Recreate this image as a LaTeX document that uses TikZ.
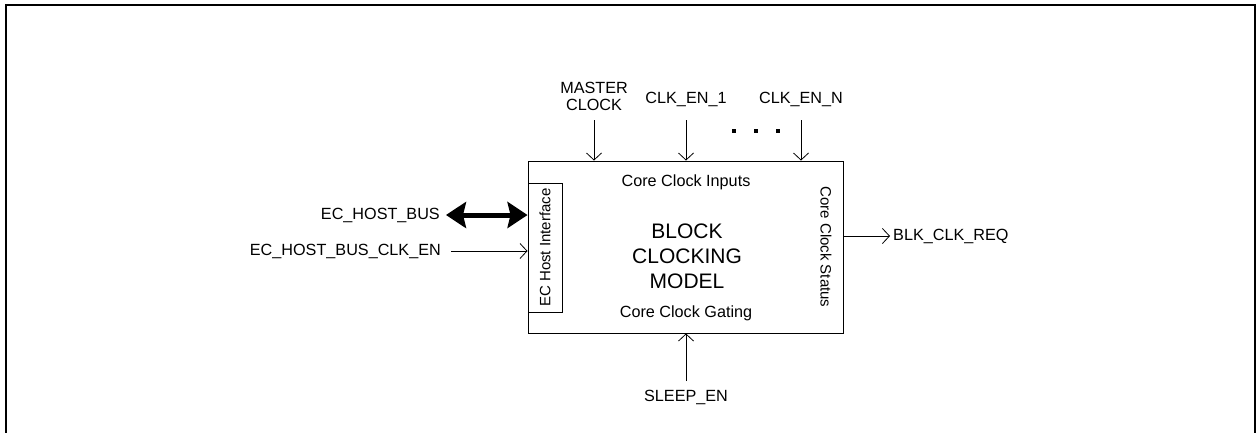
\documentclass[tikz,border=0pt]{standalone}
\usepackage{fontspec}
\setmainfont{Liberation Sans}
\usetikzlibrary{arrows.meta}
\tikzset{
  sig/.style={draw, line width=0.8pt, -{Straight Barb[length=7pt,width=15pt,line width=0.8pt]}},
  bus/.style={draw, line width=5pt, {Stealth[length=20pt,width=26pt,inset=3pt]}-{Stealth[length=20pt,width=26pt,inset=3pt]}},
  lbl/.style={inner sep=0pt, font=\fontsize{16.2}{18}\selectfont},
  rlbl/.style={inner sep=0pt, font=\fontsize{15}{17}\selectfont},
  biglbl/.style={inner sep=0pt, align=center, font=\fontsize{21}{25}\selectfont},
  blockbox/.style={draw, line width=0.9pt, inner sep=0pt},
  dotsq/.style={fill, inner sep=0pt, minimum size=4pt}
}
\begin{document}
\begin{tikzpicture}[x=1pt,y=-1pt]
\useasboundingbox (0,0) rectangle (1257,432);
% outer frame (open at the bottom)
\draw[line width=2.6pt] (6,433) -- (6,5) -- (1255,5) -- (1255,433);
% main block
\node[blockbox, minimum width=315pt, minimum height=172pt] (box) at (685.5,247) {};
% EC host interface sub-block
\node[blockbox, minimum width=34pt, minimum height=129pt] (ehi) at (545,247.5) {};
\node[rlbl, rotate=90] (ehit) at (ehi.center) {EC Host Interface};
% texts inside
\node[lbl] (cci) at (686,182) {Core Clock Inputs};
\node[lbl] (ccg) at (686,313) {Core Clock Gating};
\node[rlbl, rotate=-90] (ccs) at (826,247) {Core Clock Status};
\node[biglbl] (bcm) at (687,256) {BLOCK\\CLOCKING\\MODEL};
% top inputs
\node[lbl, align=center, font=\fontsize{16.2}{17}\selectfont] (mc) at (594,96) {MASTER\\CLOCK};
\node[lbl] (ce1) at (686,99) {CLK\_EN\_1};
\node[lbl] (cen) at (801,99) {CLK\_EN\_N};
\coordinate (mcs) at (594,120);
\coordinate (ce1s) at (686,120);
\coordinate (cens) at (801,120);
\draw[sig] (mcs) -- (mcs |- box.north);
\draw[sig] (ce1s) -- (ce1s |- box.north);
\draw[sig] (cens) -- (cens |- box.north);
\node[dotsq] (d1) at (734,131) {};
\node[dotsq] (d2) at (756,131) {};
\node[dotsq] (d3) at (778,131) {};
% bottom input
\node[lbl] (sl) at (686,397) {SLEEP\_EN};
\coordinate (sls) at (686,381);
\draw[sig] (sls) -- (sls |- box.south);
% right output
\coordinate (bcs) at (box.east |- 0,236);
\node[lbl, anchor=west] (bcr) at (893,236) {BLK\_CLK\_REQ};
\draw[sig] (bcs) -- ([xshift=-3pt]bcr.west);
% left side
\node[lbl, anchor=east] (ehb) at (440,215) {EC\_HOST\_BUS};
\coordinate (ehbe) at (box.west |- 0,215);
\draw[bus] ([xshift=6pt]ehb.east) -- (ehbe);
\node[lbl, anchor=east] (ehbc) at (441,251) {EC\_HOST\_BUS\_CLK\_EN};
\coordinate (ehbce) at (box.west |- 0,251);
\draw[sig] ([xshift=10pt]ehbc.east) -- (ehbce);
\end{tikzpicture}
\end{document}
